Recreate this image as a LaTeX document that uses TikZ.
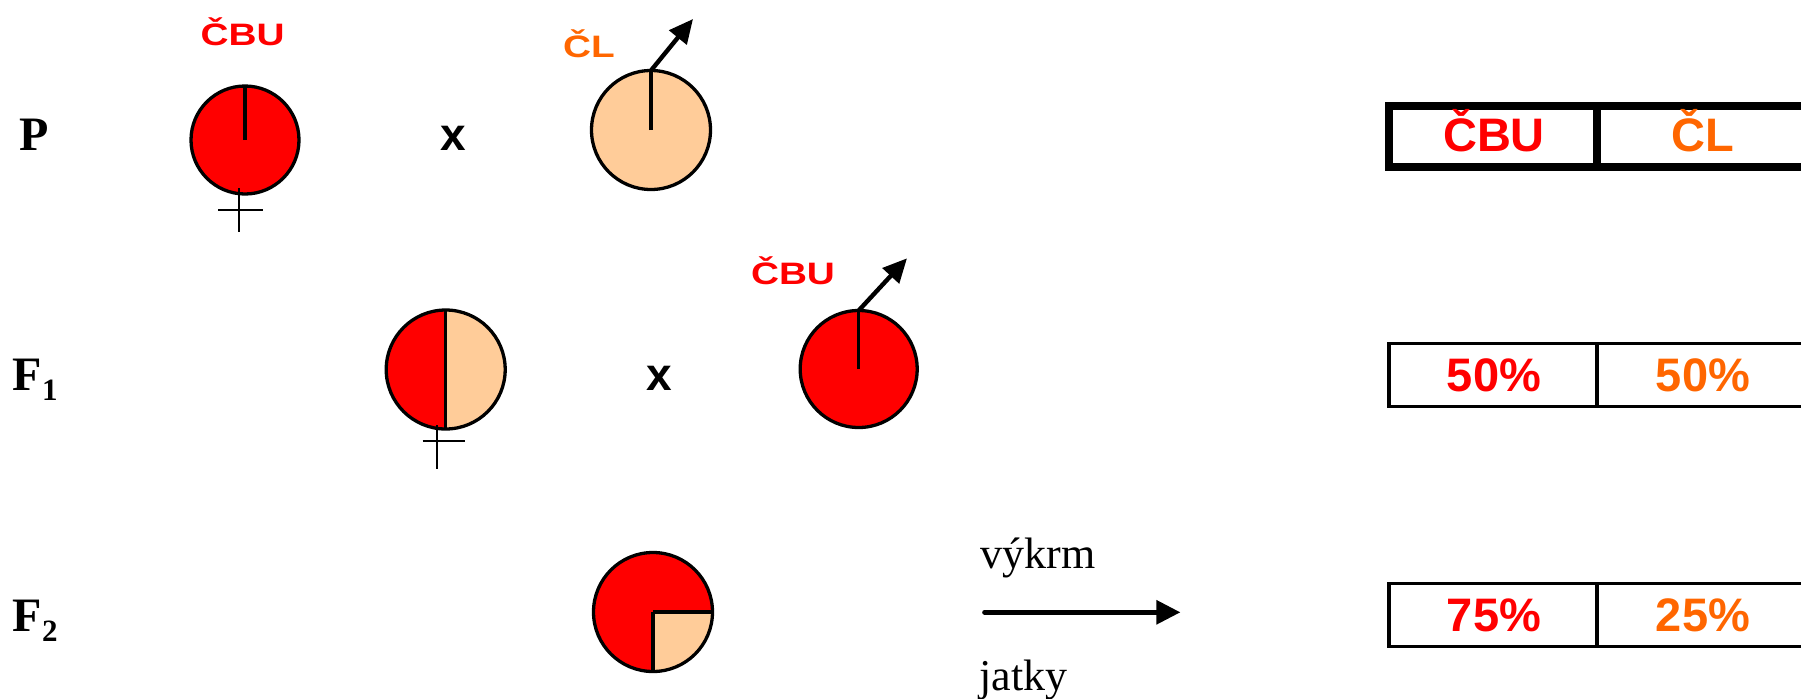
\documentclass[tikz,border=0pt]{standalone}
\usepackage{fontspec}
\setmainfont{Liberation Serif}
\newfontfamily\arialf{Liberation Sans}
\usetikzlibrary{arrows.meta}
\definecolor{cbu}{HTML}{FF0000}
\definecolor{clo}{HTML}{FF6600}
\definecolor{peach}{HTML}{FFCC99}
\begin{document}
\begin{tikzpicture}[x=0.5pt,y=-0.5pt,
  seed/.style={circle, draw=black, line width=1.65pt, inner sep=0pt, outer sep=0pt, minimum size=#1},
  lbl/.style={anchor=base, inner sep=0pt, font=\arialf\bfseries\fontsize{15.5}{17}\selectfont},
  pct/.style={anchor=base, inner sep=0pt, font=\arialf\bfseries\fontsize{23.5}{28}\selectfont},
  gen/.style={anchor=base west, inner sep=0pt, font=\bfseries\fontsize{24}{28}\selectfont},
  cross/.style={anchor=base, inner sep=0pt, font=\arialf\bfseries\fontsize{23}{28}\selectfont},
  word/.style={anchor=base west, inner sep=0pt, font=\fontsize{22}{26}\selectfont},
  axisline/.style={line width=1.65pt},
  male/.style={line width=2.2pt, -{Triangle[length=12pt,width=11pt]}},
  venus/.style={line width=1.25pt},
  thickrule/.style={line width=4pt, line join=miter},
  thinrule/.style={line width=1.75pt, line join=miter},
  flow/.style={line width=2.35pt, line cap=round, -{Triangle[length=12pt,width=11.7pt]}}]
\useasboundingbox (0,0) rectangle (1801,698);

% generation labels
\node[gen] (gP) at (19,150) {P};
\node[gen] (gF1) at (12.5,390.7) {F\raisebox{-4.65pt}{\fontsize{15.5}{18}\selectfont 1}};
\node[gen] (gF2) at (12.5,631.7) {F\raisebox{-4.65pt}{\fontsize{15.5}{18}\selectfont 2}};

% P row
\node[lbl, text=cbu] (lP1) at (242.7,45.5) {\scalebox{1.25}[1]{ČBU}};
\node[seed=54pt, fill=cbu] (c1) at (245,140) {};
\draw[axisline] (c1.center) -- (c1.north);
\coordinate (f1a) at (239,188.3);
\coordinate (f1b) at (239,232);
\coordinate (f1l) at (218.3,210);
\coordinate (f1r) at (262.7,210);
\draw[venus] (f1a) -- (f1b);
\draw[venus] (f1l) -- (f1r);
\node[cross] (xP) at (453,150) {x};
\node[lbl, text=clo] (lP2) at (589,57) {\scalebox{1.25}[1]{ČL}};
\node[seed=59.5pt, fill=peach] (c2) at (651,130) {};
\draw[axisline] (c2.center) -- (c2.north);
\coordinate (m2) at (693,19);
\draw[male] (c2.north) -- (m2);

% F1 row
\node[seed=59.5pt, fill=peach, path picture={\fill[cbu] (path picture bounding box.north west) rectangle (path picture bounding box.south);}] (c3) at (445.7,369.5) {};
\draw[axisline] (c3.north) -- (c3.south);
\coordinate (f3a) at (437.2,425);
\coordinate (f3b) at (437.2,469.3);
\coordinate (f3l) at (422.5,441);
\coordinate (f3r) at (465.4,441);
\draw[venus] (f3a) -- (f3b);
\draw[venus] (f3l) -- (f3r);
\node[cross] (xF1) at (659.6,390) {x};
\node[lbl, text=cbu] (lF1) at (793,284.5) {\scalebox{1.25}[1]{ČBU}};
\node[seed=58.5pt, fill=cbu] (c4) at (858.7,369) {};
\draw[axisline] (c4.center) -- (c4.north);
\coordinate (m4) at (907,258.3);
\draw[male] (c4.north) -- (m4);

% F2 row
\node[seed=59.5pt, fill=cbu, path picture={\fill[peach] (path picture bounding box.center) rectangle (path picture bounding box.south east);}] (c5) at (653,612) {};
\draw[axisline] (c5.center) -- (c5.east);
\draw[axisline] (c5.center) -- (c5.south);
\coordinate (a1) at (984.5,612.3);
\coordinate (a2) at (1180.4,612.3);
\draw[flow] (a1) -- (a2);
\node[word] (wv) at (980,568.3) {výkrm};
\node[word] (wj) at (979,690) {jatky};

% tables
\draw[thickrule] (1801,106) -- (1389,106) -- (1389,167) -- (1801,167);
\draw[thickrule] (1597,106) -- (1597,167);
\node[pct, text=cbu] (t1a) at (1494,151) {ČBU};
\node[pct, text=clo] (t1b) at (1703,151) {ČL};

\draw[thinrule] (1801,343.3) -- (1389,343.3) -- (1389,406.7) -- (1801,406.7);
\draw[thinrule] (1597,343.3) -- (1597,406.7);
\node[pct, text=cbu] (t2a) at (1494,391.7) {50\%};
\node[pct, text=clo] (t2b) at (1703,391.7) {50\%};

\draw[thinrule] (1801,583.3) -- (1389,583.3) -- (1389,646.7) -- (1801,646.7);
\draw[thinrule] (1597,583.3) -- (1597,646.7);
\node[pct, text=cbu] (t3a) at (1494,631.7) {75\%};
\node[pct, text=clo] (t3b) at (1703,631.7) {25\%};
\end{tikzpicture}
\end{document}
